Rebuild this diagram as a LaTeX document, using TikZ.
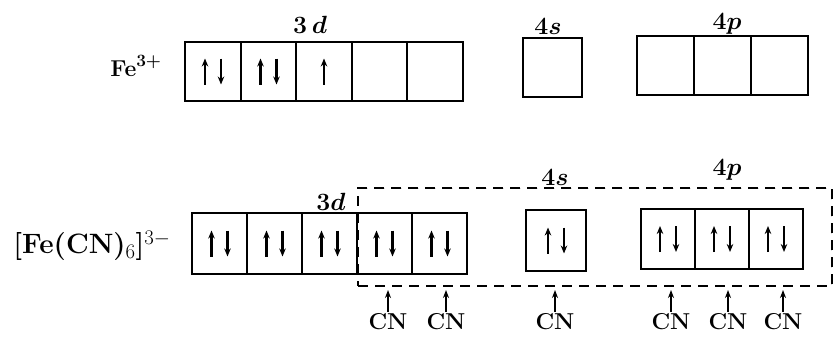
\documentclass[tikz,border=0pt]{standalone}
\usetikzlibrary{arrows.meta,positioning}
\newcommand{\spinpair}[1]{%
  \draw[spin] ([xshift=-8pt,yshift=-13pt]#1.center) -- ++(0pt,26pt);
  \draw[spin] ([xshift=8pt,yshift=13pt]#1.center) -- ++(0pt,-26pt);}
\newcommand{\spinup}[1]{\draw[spin] ([yshift=-13pt]#1.center) -- ++(0pt,26pt);}

\begin{document}
\begin{tikzpicture}[x=1pt, y=-1pt,
    every node/.style={font=\fontsize{23}{27}\selectfont\bfseries\boldmath},
    orb/.style={draw, line width=1.8pt, inner sep=0pt, outer sep=0pt, minimum width=55.5pt, minimum height=59pt},
    spin/.style={line width=2.2pt, -{Stealth[length=8pt,width=6.5pt]}},
    hybrid/.style={draw, line width=1.5pt, dash pattern=on 10pt off 7pt, inner sep=0pt, outer sep=0pt},
    donor/.style={-{Stealth[length=8pt,width=6pt]}, line width=1.8pt, shorten >=4pt, shorten <=1pt},
    ligand/.style={inner sep=1pt, font=\fontsize{23}{26}\selectfont\bfseries}
]
\useasboundingbox (0,0) rectangle (834,337);
% free ion
\node (fe) at (136,66) {Fe$^{3+}$};
\node[orb] (td1) at (213,71.5) {};
\foreach \i [count=\j from 2] in {1,...,4}
  \node[orb, right=0pt of td\i] (td\j) {};
\node[orb, minimum width=59pt] (ts) at (552.5,67.5) {};
\node[orb, minimum width=57pt] (tp1) at (665.5,65.5) {};
\node[orb, minimum width=57pt, right=0pt of tp1] (tp2) {};
\node[orb, minimum width=57pt, right=0pt of tp2] (tp3) {};
\node (l3d) at (310,25) {$3\,d$};
\node (l4s) at (548,26) {$4s$};
\node (l4p) at (727,24) {$4p$};
\spinpair{td1}
\spinpair{td2}
\spinup{td3}
% complex
\node[font=\fontsize{28}{32}\selectfont\bfseries] (cx) at (92,246) {[Fe(CN)$_6$]$^{3-}$};
\node[orb, minimum width=55pt, minimum height=61pt] (bd1) at (219.5,243.5) {};
\foreach \i [count=\j from 2] in {1,...,4}
  \node[orb, minimum width=55pt, minimum height=61pt, right=0pt of bd\i] (bd\j) {};
\node[orb, minimum width=60pt, minimum height=61pt] (bs) at (556,240.5) {};
\node[orb, minimum width=54pt, minimum height=60pt] (bp1) at (668,239) {};
\node[orb, minimum width=54pt, minimum height=60pt, right=0pt of bp1] (bp2) {};
\node[orb, minimum width=54pt, minimum height=60pt, right=0pt of bp2] (bp3) {};
\node (m3d) at (331,202) {$3d$};
\node (m4s) at (555,177) {$4s$};
\node (m4p) at (727,170) {$4p$};
\foreach \b in {bd1,bd2,bd3,bd4,bd5,bs,bp1,bp2,bp3}
  \spinpair{\b}
\node[hybrid, minimum width=474pt, minimum height=98pt] (hyb) at (595,237) {};
% ligands
\foreach \x [count=\k] in {388,446,555,671,728,783} {
  \node[ligand] (cn\k) at (\x,322) {CN};
  \draw[donor] (cn\k.north) -- (cn\k.north |- hyb.south);
}
\end{tikzpicture}
\end{document}
